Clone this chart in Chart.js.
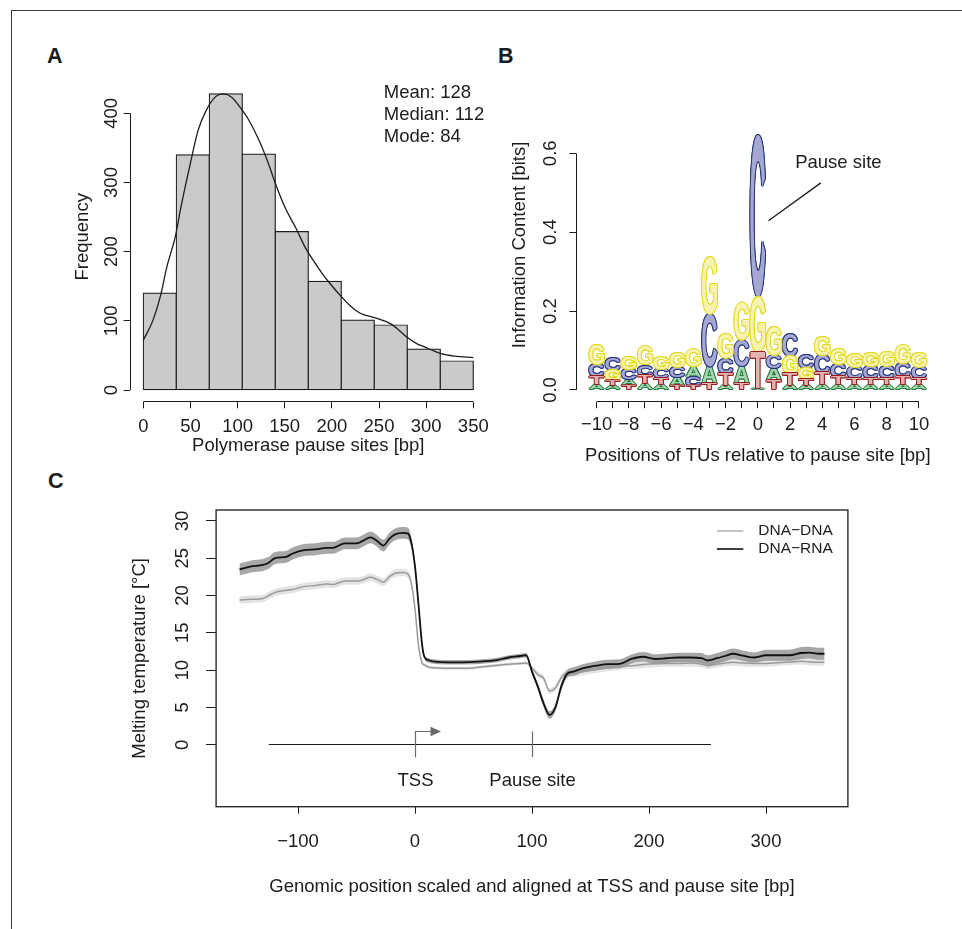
<!DOCTYPE html>
<html>
<head>
<meta charset="utf-8">
<title>Polymerase pause sites</title>
<script src="https://cdn.jsdelivr.net/npm/chart.js@4.4.1/dist/chart.umd.min.js"></script>
<style>
  html, body { margin: 0; padding: 0; background: #fff; }
  #page { position: relative; width: 962px; height: 929px; overflow: hidden; }
  #page canvas { position: absolute; }
  .frame { position: absolute; left: 11px; top: 10px; width: 960px; height: 930px; border-left: 1px solid #3a3a3a; border-top: 1px solid #3a3a3a; }
  .tag { position: absolute; font: bold 21.5px "Liberation Sans", Arial, sans-serif; line-height: 1; color: #1c1c1c; }
</style>
</head>
<body>
<div id="page">
  <div class="frame"></div>
  <div class="tag" style="left:47px; top:46px">A</div>
  <div class="tag" style="left:498px; top:46px">B</div>
  <div class="tag" style="left:48px; top:471px">C</div>
  <canvas id="histChart" width="500" height="470" style="left:0; top:0"></canvas>
  <canvas id="logoChart" width="462" height="470" style="left:500px; top:0"></canvas>
  <canvas id="meltChart" width="962" height="459" style="left:0; top:470px"></canvas>
</div>
<script>
// --- PANEL A: distance histogram ---
const binEdges = [0, 35, 70, 105, 140, 175, 210, 245, 280, 315, 350];
const binCounts = [140, 340, 428, 341, 229, 157, 101, 94, 59, 42];
const densityX = [0, 10, 18, 25, 34, 40, 50, 58, 67, 76, 85, 94, 102, 112, 124, 132, 140, 150, 163, 171, 180, 190, 198, 210, 220, 230, 247, 262, 270, 279, 290, 297, 315, 330, 350];
const densityY = [72, 100, 135, 178, 222, 265, 328, 375, 405, 423, 428, 423, 410, 390, 357, 330, 299, 265, 231, 208, 188, 168, 154, 135, 121, 111, 104, 96, 88, 77, 67, 63, 53, 49, 47];
const histXTicks = [0, 50, 100, 150, 200, 250, 300, 350];
const histXLabels = ['0', '50', '100', '150', '200', '250', '300', '350'];
const histYTicks = [0, 100, 200, 300, 400];
const histYLabels = ['0', '100', '200', '300', '400'];
const statLines = ['Mean: 128', 'Median: 112', 'Mode: 84'];

// --- PANEL B: sequence logo ---
const logoPositions = [-10, -9, -8, -7, -6, -5, -4, -3, -2, -1, 0, 1, 2, 3, 4, 5, 6, 7, 8, 9, 10];
const logoA = [0.014, 0.012, 0.016, 0.017, 0.014, 0.022, 0.025, 0.042, 0.013, 0.042, 0.004, 0.029, 0.013, 0.013, 0.014, 0.014, 0.014, 0.014, 0.014, 0.014, 0.014];
const logoC = [0.030, 0.030, 0.025, 0.028, 0.025, 0.027, 0.024, 0.135, 0.038, 0.068, 0.412, 0.034, 0.055, 0.034, 0.046, 0.033, 0.030, 0.030, 0.031, 0.035, 0.030];
const logoG = [0.049, 0.025, 0.031, 0.045, 0.030, 0.036, 0.042, 0.144, 0.063, 0.093, 0.139, 0.072, 0.042, 0.025, 0.048, 0.041, 0.034, 0.033, 0.036, 0.047, 0.036];
const logoT = [0.021, 0.013, 0.012, 0.019, 0.015, 0.010, 0.010, 0.017, 0.030, 0.017, 0.093, 0.025, 0.030, 0.017, 0.028, 0.018, 0.015, 0.016, 0.016, 0.018, 0.015];
const logoXLabels = ['\u221210', '', '\u22128', '', '\u22126', '', '\u22124', '', '\u22122', '', '0', '', '2', '', '4', '', '6', '', '8', '', '10'];
const logoYTicks = [0, 0.2, 0.4, 0.6];
const logoYLabels = ['0.0', '0.2', '0.4', '0.6'];
const pauseNote = { text: 'Pause site', at: [2.32, 0.575], from: [3.91, 0.525], to: [0.66, 0.429] };

// --- PANEL C: melting temperature profiles ---
const genomicPos = [-150, -140, -130, -125, -120, -110, -105, -95, -85, -75, -70, -60, -50, -45, -38, -33, -27, -22, -17, -10, -6, -3, 0, 3, 6, 8, 12, 20, 30, 40, 50, 60, 70, 80, 90, 95, 100, 105, 110, 115, 120, 125, 130, 135, 145, 155, 165, 175, 185, 195, 205, 215, 225, 235, 245, 250, 258, 265, 272, 280, 290, 300, 310, 320, 330, 337, 345, 350];
const rnaTm = [23.5, 23.9, 24.1, 24.4, 25.0, 25.2, 25.6, 26.1, 26.2, 26.4, 26.4, 27.0, 27.0, 27.3, 27.8, 27.4, 26.7, 27.6, 28.2, 28.4, 28.3, 27.0, 23.9, 18.8, 13.5, 11.8, 11.3, 11.1, 11.05, 11.05, 11.1, 11.2, 11.35, 11.7, 11.9, 12.0, 9.8, 7.8, 5.5, 4.0, 5.0, 7.8, 9.5, 9.8, 10.3, 10.6, 10.8, 10.85, 11.5, 11.8, 11.5, 11.6, 11.7, 11.7, 11.6, 11.3, 11.6, 11.9, 12.2, 11.95, 11.7, 12.0, 12.0, 12.0, 12.3, 12.35, 12.2, 12.2];
const dnaTm = [19.4, 19.5, 19.6, 20.0, 20.4, 20.7, 20.8, 21.2, 21.35, 21.55, 21.5, 21.95, 21.95, 22.1, 22.45, 22.2, 21.8, 22.5, 23.0, 23.1, 22.9, 21.5, 18.2, 13.3, 11.0, 10.7, 10.4, 10.3, 10.25, 10.25, 10.3, 10.5, 10.65, 10.8, 10.9, 10.95, 10.3, 9.4, 8.9, 7.2, 7.6, 9.0, 9.7, 9.6, 9.85, 10.1, 10.3, 10.5, 10.6, 10.75, 10.85, 10.9, 10.9, 10.95, 10.8, 10.6, 10.8, 10.95, 11.05, 10.95, 10.9, 10.9, 11.0, 11.1, 11.2, 11.1, 11.05, 11.05];
const rnaErr = [0.8, 0.8, 0.8, 0.8, 0.8, 0.8, 0.8, 0.8, 0.8, 0.8, 0.8, 0.8, 0.8, 0.8, 0.8, 0.8, 0.8, 0.8, 0.8, 0.8, 0.8, 0.7, 0.6, 0.5, 0.4, 0.3, 0.3, 0.3, 0.3, 0.3, 0.3, 0.3, 0.3, 0.3, 0.3, 0.3, 0.35, 0.45, 0.5, 0.5, 0.5, 0.5, 0.5, 0.55, 0.55, 0.6, 0.6, 0.6, 0.6, 0.65, 0.65, 0.65, 0.65, 0.65, 0.7, 0.7, 0.7, 0.7, 0.7, 0.7, 0.7, 0.75, 0.75, 0.75, 0.8, 0.8, 0.8, 0.8];
const dnaErr = [0.5, 0.5, 0.5, 0.5, 0.5, 0.5, 0.5, 0.5, 0.5, 0.5, 0.5, 0.5, 0.5, 0.5, 0.5, 0.5, 0.5, 0.5, 0.5, 0.5, 0.5, 0.45, 0.4, 0.3, 0.25, 0.25, 0.2, 0.2, 0.2, 0.2, 0.2, 0.2, 0.2, 0.2, 0.2, 0.2, 0.3, 0.4, 0.4, 0.4, 0.4, 0.4, 0.4, 0.45, 0.45, 0.45, 0.45, 0.45, 0.45, 0.45, 0.45, 0.45, 0.45, 0.45, 0.45, 0.45, 0.45, 0.45, 0.45, 0.45, 0.45, 0.45, 0.45, 0.45, 0.45, 0.45, 0.45, 0.45];
const meltXTicks = [-100, 0, 100, 200, 300];
const meltXLabels = ['\u2212100', '0', '100', '200', '300'];
const meltYTicks = [0, 5, 10, 15, 20, 25, 30];
const meltYLabels = ['0', '5', '10', '15', '20', '25', '30'];
const trackSpan = [-125, 253];
const tssAt = 0;
const pauseAt = 100;
const markerLabels = ['TSS', 'Pause site'];

const INK = '#1c1c1c';
const FONT = '"Liberation Sans", Arial, Helvetica, sans-serif';

Chart.defaults.font.family = FONT;
Chart.defaults.font.size = 18.5;
Chart.defaults.color = INK;
Chart.defaults.animation = false;
Chart.defaults.responsive = false;
Chart.defaults.plugins.legend.display = false;
Chart.defaults.plugins.tooltip.enabled = false;
Chart.defaults.elements.point.radius = 0;

function xy(xs, ys) {
  return xs.map((x, i) => ({ x, y: ys[i] }));
}

// R style axis: outward ticks and labels from Chart.js, short axis line from axisLines()
function rAxis(pos, o) {
  const vertical = pos === 'left';
  return {
    type: 'linear', position: pos, bounds: 'data', offset: false,
    min: o.min, max: o.max,
    afterBuildTicks: (scale) => { scale.ticks = o.ticks.map((v) => ({ value: v })); },
    afterFit: (scale) => { if (vertical) scale.width = o.size; else scale.height = o.size; },
    grid: { offset: false, drawOnChartArea: false, drawTicks: true, tickLength: o.tickLen, color: INK, lineWidth: 1 },
    border: { display: false },
    ticks: {
      autoSkip: false, color: INK, padding: o.pad,
      minRotation: vertical ? 90 : 0, maxRotation: vertical ? 90 : 0,
      crossAlign: vertical ? 'center' : 'near',
      callback: (v, i) => o.labels[i]
    },
    title: {
      display: true, text: o.title, color: INK,
      padding: vertical ? { top: o.titlePad, bottom: 0 } : { top: 0, bottom: o.titlePad }
    }
  };
}

function crisp(p) { return Math.round(p) + 0.5; }

function axisLines(xSpan, ySpan) {
  return {
    id: 'axisLines',
    afterDraw(chart) {
      const { ctx, chartArea: a, scales } = chart;
      ctx.save();
      ctx.strokeStyle = INK;
      ctx.lineWidth = 1;
      ctx.beginPath();
      const by = crisp(a.bottom - 0.5), lx = crisp(a.left - 0.5);
      ctx.moveTo(scales.x.getPixelForValue(xSpan[0]), by);
      ctx.lineTo(scales.x.getPixelForValue(xSpan[1]), by);
      ctx.moveTo(lx, scales.y.getPixelForValue(ySpan[0]));
      ctx.lineTo(lx, scales.y.getPixelForValue(ySpan[1]));
      ctx.stroke();
      ctx.restore();
    }
  };
}

// ---------------- A ----------------
const binMids = binCounts.map((_, i) => (binEdges[i] + binEdges[i + 1]) / 2);

const histNote = {
  id: 'histNote',
  afterDraw(chart) {
    const { ctx, scales: { x, y } } = chart;
    ctx.save();
    ctx.fillStyle = INK;
    ctx.font = '18.5px ' + FONT;
    ctx.textBaseline = 'middle';
    statLines.forEach((t, i) => ctx.fillText(t, x.getPixelForValue(255), y.getPixelForValue(430) + i * 22));
    ctx.restore();
  }
};

new Chart(document.getElementById('histChart'), {
  type: 'bar',
  data: {
    datasets: [
      {
        type: 'line', label: 'Density', data: xy(densityX, densityY),
        borderColor: INK, borderWidth: 1.3, cubicInterpolationMode: 'monotone', order: 0
      },
      {
        type: 'bar', label: 'Frequency', data: xy(binMids, binCounts),
        backgroundColor: '#c9cbca', borderColor: INK, borderWidth: 1.2, borderSkipped: false,
        inflateAmount: 0.6, barPercentage: 1, categoryPercentage: 1, order: 1
      }
    ]
  },
  options: {
    devicePixelRatio: 1,
    layout: { padding: { left: 50, top: 71.8, right: 13.5, bottom: 8.2 } },
    scales: {
      x: rAxis('bottom', { min: -14, max: 364, ticks: histXTicks, labels: histXLabels, size: 60, tickLen: 6.5, pad: 7.3, title: 'Polymerase pause sites [bp]', titlePad: 4.6 }),
      y: rAxis('left', { min: -17, max: 460, ticks: histYTicks, labels: histYLabels, size: 80.1, tickLen: 6.5, pad: -3.5, title: 'Frequency', titlePad: 22.2 })
    }
  },
  plugins: [axisLines([0, 350], [0, 400]), histNote]
});

// ---------------- B ----------------
const logoLetters = ['A', 'C', 'G', 'T'];
const logoHeights = { A: logoA, C: logoC, G: logoG, T: logoT };
const letterStyle = {
  A: { fill: '#a8d3b0', line: '#1e7b3b' },
  C: { fill: '#a5a8d0', line: '#27357f' },
  G: { fill: '#f6f3ae', line: '#e2d820' },
  T: { fill: '#e2b3b3', line: '#9b1b1b' }
};

// letters are stacked smallest at the bottom
function letterSpan(letter, i) {
  const order = logoLetters.slice().sort((p, q) => logoHeights[p][i] - logoHeights[q][i]);
  let base = 0;
  for (const l of order) {
    if (l === letter) break;
    base += logoHeights[l][i];
  }
  return [base, base + logoHeights[letter][i]];
}

function drawGlyph(ctx, ch, left, top, w, h, st) {
  if (h < 0.8) return;
  ctx.save();
  ctx.font = 'bold 100px ' + FONT;
  ctx.textAlign = 'left';
  ctx.textBaseline = 'alphabetic';
  const m = ctx.measureText(ch);
  const gw = m.actualBoundingBoxLeft + m.actualBoundingBoxRight;
  const gh = m.actualBoundingBoxAscent + m.actualBoundingBoxDescent;
  const sx = w / gw, sy = h / gh;
  const paint = (dx, dy, color) => {
    ctx.setTransform(sx, 0, 0, sy, left + dx, top + dy);
    ctx.fillStyle = color;
    ctx.fillText(ch, m.actualBoundingBoxLeft, m.actualBoundingBoxAscent);
  };
  const o = 1.0, d = 0.72;
  [[-o, 0], [o, 0], [0, -o], [0, o], [-d, -d], [d, -d], [-d, d], [d, d]].forEach(([dx, dy]) => paint(dx, dy, st.line));
  paint(0, 0, st.fill);
  ctx.restore();
}

const logoGlyphs = {
  id: 'logoGlyphs',
  afterDatasetsDraw(chart) {
    const { ctx } = chart;
    chart.data.datasets.forEach((ds, di) => {
      chart.getDatasetMeta(di).data.forEach((bar) => {
        const { x, y, base, width } = bar.getProps(['x', 'y', 'base', 'width'], true);
        drawGlyph(ctx, ds.label, x - width / 2, Math.min(y, base), width, Math.abs(base - y), letterStyle[ds.label]);
      });
    });
  }
};

const logoNote = {
  id: 'logoNote',
  afterDraw(chart) {
    const { ctx, scales: { x, y } } = chart;
    ctx.save();
    ctx.strokeStyle = INK;
    ctx.lineWidth = 1.3;
    ctx.beginPath();
    ctx.moveTo(x.getPixelForValue(pauseNote.from[0]), y.getPixelForValue(pauseNote.from[1]));
    ctx.lineTo(x.getPixelForValue(pauseNote.to[0]), y.getPixelForValue(pauseNote.to[1]));
    ctx.stroke();
    ctx.fillStyle = INK;
    ctx.font = '18.5px ' + FONT;
    ctx.textBaseline = 'middle';
    ctx.fillText(pauseNote.text, x.getPixelForValue(pauseNote.at[0]), y.getPixelForValue(pauseNote.at[1]));
    ctx.restore();
  }
};

new Chart(document.getElementById('logoChart'), {
  type: 'bar',
  data: {
    datasets: logoLetters.map((letter) => ({
      label: letter,
      data: logoPositions.map((p, i) => ({ x: p, y: letterSpan(letter, i) })),
      backgroundColor: 'rgba(0,0,0,0)', borderWidth: 0,
      grouped: false, barPercentage: 0.92, categoryPercentage: 1
    }))
  },
  options: {
    devicePixelRatio: 1,
    layout: { padding: { left: 8, top: 88.2, right: 22.4, bottom: 2.3 } },
    scales: {
      x: rAxis('bottom', { min: -11.28, max: 11.28, ticks: logoPositions, labels: logoXLabels, size: 66, tickLen: 6.5, pad: 5.7, title: 'Positions of TUs relative to pause site [bp]', titlePad: 0.2 }),
      y: rAxis('left', { min: -0.0297, max: 0.765, ticks: logoYTicks, labels: logoYLabels, size: 68, tickLen: 6.5, pad: 5.9, title: 'Information Content [bits]', titlePad: 0.9 })
    }
  },
  plugins: [axisLines([-10, 10], [0, 0.6]), logoGlyphs, logoNote]
});

// ---------------- C ----------------
const rnaLow = rnaTm.map((v, i) => v - rnaErr[i]);
const rnaHigh = rnaTm.map((v, i) => v + rnaErr[i]);
const dnaLow = dnaTm.map((v, i) => v - dnaErr[i]);
const dnaHigh = dnaTm.map((v, i) => v + dnaErr[i]);

const meltDecor = {
  id: 'meltDecor',
  afterDraw(chart) {
    const { ctx, chartArea: a, scales: { x, y } } = chart;
    ctx.save();
    // plot frame
    ctx.strokeStyle = '#2a2a2a';
    ctx.lineWidth = 1.4;
    ctx.strokeRect(a.left, a.top, a.right - a.left, a.bottom - a.top);

    // gene track with TSS arrow and pause site tick
    const y0 = crisp(y.getPixelForValue(0) - 0.5);
    ctx.strokeStyle = INK;
    ctx.lineWidth = 1.2;
    ctx.beginPath();
    ctx.moveTo(x.getPixelForValue(trackSpan[0]), y0);
    ctx.lineTo(x.getPixelForValue(trackSpan[1]), y0);
    ctx.stroke();

    const xt = crisp(x.getPixelForValue(tssAt) - 0.5);
    const xp = crisp(x.getPixelForValue(pauseAt) - 0.5);
    ctx.strokeStyle = '#6a6a6a';
    ctx.fillStyle = '#6a6a6a';
    ctx.beginPath();
    ctx.moveTo(xt, y0 + 13);
    ctx.lineTo(xt, y0 - 13);
    ctx.lineTo(xt + 16, y0 - 13);
    ctx.moveTo(xp, y0 - 13);
    ctx.lineTo(xp, y0 + 12.5);
    ctx.stroke();
    ctx.beginPath();
    ctx.moveTo(xt + 15, y0 - 17.7);
    ctx.lineTo(xt + 25.5, y0 - 13);
    ctx.lineTo(xt + 15, y0 - 8.3);
    ctx.closePath();
    ctx.fill();

    ctx.fillStyle = INK;
    ctx.font = '18.5px ' + FONT;
    ctx.textAlign = 'center';
    ctx.textBaseline = 'middle';
    ctx.fillText(markerLabels[0], xt, y0 + 36);
    ctx.fillText(markerLabels[1], xp, y0 + 36);

    // legend, top right inside the frame
    const rows = [chart.data.datasets[1], chart.data.datasets[0]];
    ctx.font = '15.5px ' + FONT;
    ctx.textAlign = 'left';
    rows.forEach((ds, i) => {
      const ly = a.top + 21 + i * 18;
      ctx.strokeStyle = ds.legendColor;
      ctx.lineWidth = 1.6;
      ctx.beginPath();
      ctx.moveTo(a.right - 131, ly);
      ctx.lineTo(a.right - 104.6, ly);
      ctx.stroke();
      ctx.fillStyle = INK;
      ctx.fillText(ds.label, a.right - 89.6, ly);
    });
    ctx.restore();
  }
};

new Chart(document.getElementById('meltChart'), {
  type: 'line',
  data: {
    datasets: [
      { label: 'DNA\u2212RNA', data: xy(genomicPos, rnaTm), borderColor: '#111111', legendColor: '#111111', borderWidth: 1.8, order: 0 },
      { label: 'DNA\u2212DNA', data: xy(genomicPos, dnaTm), borderColor: '#9a9a9a', legendColor: '#b4b4b4', borderWidth: 1.5, order: 1 },
      { label: 'rna-low', data: xy(genomicPos, rnaLow), borderColor: 'rgba(0,0,0,0)', borderWidth: 0, order: 2 },
      { label: 'rna-high', data: xy(genomicPos, rnaHigh), borderColor: 'rgba(0,0,0,0)', borderWidth: 0, fill: '-1', backgroundColor: 'rgba(130,130,130,0.7)', order: 2 },
      { label: 'dna-low', data: xy(genomicPos, dnaLow), borderColor: 'rgba(0,0,0,0)', borderWidth: 0, order: 3 },
      { label: 'dna-high', data: xy(genomicPos, dnaHigh), borderColor: 'rgba(0,0,0,0)', borderWidth: 0, fill: '-1', backgroundColor: '#e3e3e3', order: 3 }
    ]
  },
  options: {
    devicePixelRatio: 1,
    elements: { line: { cubicInterpolationMode: 'monotone' } },
    layout: { padding: { left: 110, top: 40, right: 114.1, bottom: 22.3 } },
    scales: {
      x: rAxis('bottom', { min: -170, max: 370, ticks: meltXTicks, labels: meltXLabels, size: 100, tickLen: 7, pad: 16.9, title: 'Genomic position scaled and aligned at TSS and pause site [bp]', titlePad: 9.1 }),
      y: rAxis('left', { min: -8.3, max: 31.47, ticks: meltYTicks, labels: meltYLabels, size: 106.1, tickLen: 10, pad: 12.5, title: 'Melting temperature [\u00b0C]', titlePad: 18.9 })
    }
  },
  plugins: [meltDecor]
});
</script>
</body>
</html>
